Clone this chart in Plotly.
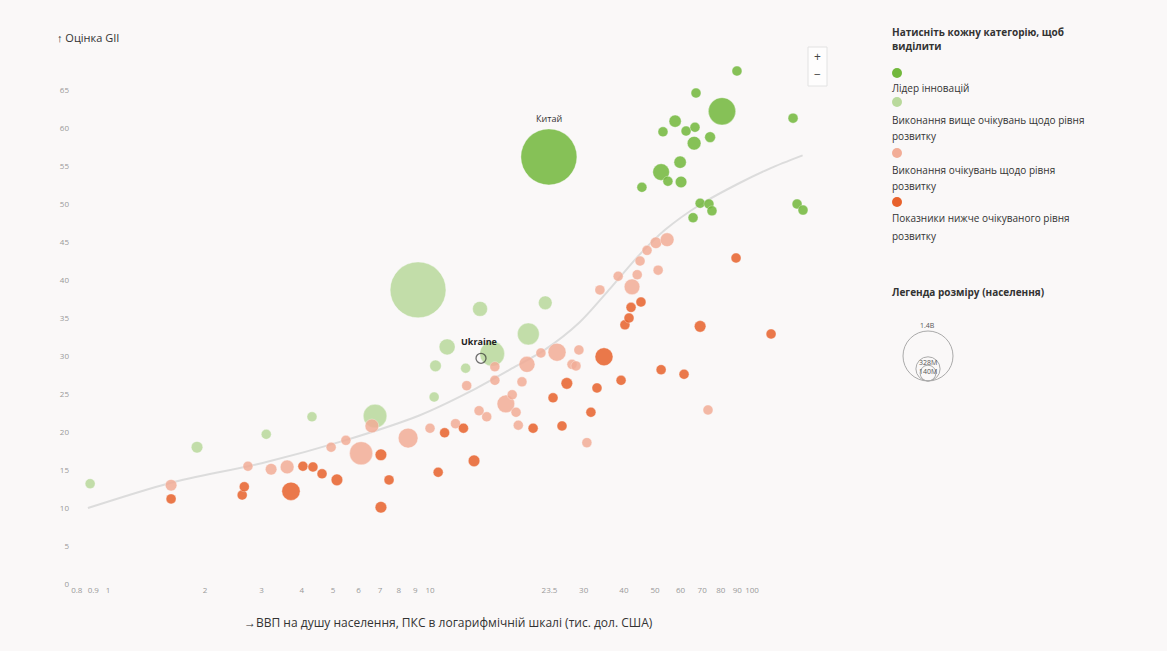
import plotly.graph_objects as go
import math

# ---------------- DATA ----------------
# Лідер інновацій
lead_gdp = [23.4, 45.5, 52.2, 54.8, 60.2, 59.8, 52.9, 57.7, 62.4, 66.5, 66.1, 67.0, 74.1, 80.7, 89.8, 69.0, 73.5, 75.1, 65.6, 134.1, 138.0, 144.0]
lead_gii = [56.2, 52.2, 54.2, 53.0, 52.9, 55.5, 59.5, 60.9, 59.6, 60.1, 58.0, 64.6, 58.8, 62.2, 67.5, 50.1, 50.0, 49.1, 48.2, 61.3, 50.0, 49.2]
lead_pop = [1410, 6, 125, 16, 60, 68, 14, 67, 25, 14, 84, 25, 52, 335, 9, 14, 25, 14, 40, 6, 10, 5]

# Виконання вище очікувань щодо рівня розвитку
above_gdp = [0.88, 1.89, 3.10, 4.30, 6.75, 10.3, 10.4, 11.3, 9.18, 12.9, 14.3, 15.6, 20.2, 22.8]
above_gii = [13.2, 18.0, 19.7, 22.0, 22.1, 24.6, 28.7, 31.2, 38.7, 28.4, 36.2, 30.3, 32.9, 37.0]
above_pop = [40, 60, 42, 28, 250, 42, 60, 115, 1400, 42, 100, 275, 215, 85]

# Виконання очікувань щодо рівня розвитку
exp_gdp = [1.57, 2.72, 3.21, 3.60, 4.93, 5.48, 6.11, 6.60, 8.55, 10.0, 12.0, 13.0, 14.2, 15.0, 15.9, 15.9, 17.2, 18.0, 18.5, 18.8, 19.3, 20.0, 22.1, 24.8, 27.6, 28.4, 29.0, 30.7, 33.7, 38.4, 42.4, 44.0, 44.9, 47.2, 50.3, 54.5, 51.1, 73.0]
exp_gii = [13.0, 15.5, 15.1, 15.4, 18.0, 18.9, 17.2, 20.8, 19.2, 20.5, 21.1, 26.1, 22.8, 22.0, 28.6, 26.8, 23.7, 24.9, 22.6, 20.9, 26.6, 28.9, 30.4, 30.5, 28.9, 28.7, 30.8, 18.6, 38.7, 40.5, 39.1, 40.7, 42.5, 43.9, 44.9, 45.3, 41.3, 22.9]
exp_pop = [60, 28, 60, 85, 42, 28, 240, 85, 175, 28, 42, 28, 42, 14, 42, 42, 140, 12, 12, 10, 12, 115, 12, 145, 10, 10, 12, 6, 14, 10, 110, 12, 10, 42, 60, 85, 6, 5]

# Показники нижче очікуваного рівня розвитку
below_gdp = [1.57, 2.61, 2.65, 3.70, 4.03, 4.33, 4.62, 5.14, 7.04, 7.04, 7.46, 10.6, 11.1, 12.7, 13.7, 20.9, 24.1, 25.7, 26.6, 31.6, 33.0, 34.7, 39.2, 40.3, 41.5, 42.1, 45.2, 52.2, 61.5, 69.0, 89.2, 114.6]
below_gii = [11.2, 11.7, 12.8, 12.2, 15.5, 15.4, 14.5, 13.7, 17.0, 10.1, 13.7, 14.7, 19.9, 20.5, 16.2, 20.5, 24.5, 20.8, 26.4, 22.6, 25.8, 29.9, 26.8, 34.1, 35.0, 36.4, 37.1, 28.2, 27.6, 33.9, 42.9, 32.9]
below_pop = [42, 28, 28, 150, 25, 25, 42, 60, 60, 60, 12, 42, 28, 12, 60, 12, 42, 28, 60, 12, 42, 145, 12, 12, 12, 12, 42, 12, 12, 60, 28, 10]

# Україна
ukr_gdp = [14.4]
ukr_gii = [29.7]
ukr_pop = [38]

# Лінія тренду
trend_gdp = [0.866, 1.56, 3.0, 5.45, 9.3, 13.3, 17.7, 22.7, 29.1, 36.3, 44.9, 53.7, 68.9, 91.8, 113.9, 143.6]
trend_gii = [10.0, 13.3, 15.9, 18.9, 22.2, 25.3, 28.2, 30.8, 34.4, 38.9, 43.4, 46.6, 49.9, 52.8, 54.7, 56.4]

x_tickvals = [0.8, 0.9, 1, 2, 3, 4, 5, 6, 7, 8, 9, 10, 23.5, 30, 40, 50, 60, 70, 80, 90, 100]
x_ticktext = ["0.8", "0.9", "1", "2", "3", "4", "5", "6", "7", "8", "9", "10", "23.5", "30", "40", "50", "60", "70", "80", "90", "100"]
y_tickvals = list(range(0, 70, 5))

size_leg_pop = [1400, 328, 140]
size_leg_lab = ["1.4B", "328M", "140M"]

categories = ["Лідер інновацій",
              "Виконання вище очікувань щодо рівня розвитку",
              "Виконання очікувань щодо рівня розвитку",
              "Показники нижче очікуваного рівня розвитку"]
colors = ["#72b83c", "#b9d99c", "#f2ad97", "#e8622c"]

# ---------------- FIGURE ----------------
FONT = "Open Sans"
W, H = 1167, 651
L, R, T, B = 70, 358, 60, 67
PW, PH = W - L - R, H - T - B
MAXD = 56
SIZEREF = 2 * 1410 / MAXD ** 2

def px(x):
    return (x - L) / PW

def py(y):
    return (H - B - y) / PH

fig = go.Figure()

fig.add_trace(go.Scatter(x=trend_gdp, y=trend_gii, mode="lines",
                         line=dict(color="#dcdcdc", width=2, shape="spline", smoothing=0.8),
                         hoverinfo="skip", showlegend=False))

series = [(lead_gdp, lead_gii, lead_pop), (above_gdp, above_gii, above_pop),
          (exp_gdp, exp_gii, exp_pop), (below_gdp, below_gii, below_pop)]
for (gx, gy, gp), name, col in zip(series, categories, colors):
    fig.add_trace(go.Scatter(
        x=gx, y=gy, mode="markers", name=name, showlegend=False,
        marker=dict(size=gp, sizemode="area", sizeref=SIZEREF, sizemin=5,
                    color=col, opacity=0.85, line=dict(color="rgba(255,255,255,0.6)", width=0.6))))

fig.add_trace(go.Scatter(
    x=ukr_gdp, y=ukr_gii, mode="markers", name="Ukraine", showlegend=False,
    marker=dict(size=ukr_pop, sizemode="area", sizeref=SIZEREF, sizemin=5,
                color="rgba(0,0,0,0)", line=dict(color="#333333", width=1.3))))

annotations = []
# data labels
annotations.append(dict(x=math.log10(23.4), y=61.3, xref="x", yref="y", text="Китай", showarrow=False,
                        font=dict(family=FONT, size=9, color="#333")))
annotations.append(dict(x=math.log10(14.2), y=31.9, xref="x", yref="y", text="<b>Ukraine</b>", showarrow=False,
                        font=dict(family=FONT, size=9, color="#222")))

def pannot(x, y, text, size=10, color="#333", xanchor="center"):
    annotations.append(dict(x=px(x), y=py(y), xref="paper", yref="paper", xanchor=xanchor, yanchor="middle",
                            text=text, showarrow=False, font=dict(family=FONT, size=size, color=color)))

# axis titles
pannot(55, 37, "<b>↑</b> Оцінка GII", size=11, xanchor="left")
pannot(448, 622, "→ВВП на душу населення, ПКС в логарифмічній шкалі (тис. дол. США)", size=12)
# zoom controls
pannot(817, 57, "+", size=12, color="#444")
pannot(817, 75, "−", size=12, color="#444")

shapes = [dict(type="rect", xref="paper", yref="paper", x0=px(808), x1=px(827), y0=py(47), y1=py(86),
               line=dict(color="#e2e2e2", width=1), fillcolor="rgba(255,255,255,0.7)", layer="below")]

# legend (custom)
LX = 890
def ltext(t, y, bold=False, size=10):
    pannot(LX, y, ("<b>%s</b>" % t) if bold else t, size=size, xanchor="left")

def lcircle(cx, cy, r, fill, line="rgba(0,0,0,0)", lw=0):
    shapes.append(dict(type="circle", xref="paper", yref="paper",
                       x0=px(cx - r), x1=px(cx + r), y0=py(cy + r), y1=py(cy - r),
                       fillcolor=fill, line=dict(color=line, width=lw)))

ltext("Натисніть кожну категорію, щоб", 32, bold=True)
ltext("виділити", 46, bold=True)
leg_rows = [(73, ["Лідер інновацій"], [88]),
            (102, ["Виконання вище очікувань щодо рівня", "розвитку"], [120, 136]),
            (153, ["Виконання очікувань щодо рівня", "розвитку"], [170, 186]),
            (202, ["Показники нижче очікуваного рівня", "розвитку"], [218, 236])]
for (my, lines, ys), col in zip(leg_rows, colors):
    lcircle(897, my, 5, col)
    for t, yy in zip(lines, ys):
        ltext(t, yy)

ltext("Легенда розміру (населення)", 292, bold=True)
base = 381
for pop, lab in zip(size_leg_pop, size_leg_lab):
    r = 25 * math.sqrt(pop / 1400)
    lcircle(928, base - r, r, "rgba(255,255,255,0)", "#aaa", 1)
    ty = base - 2 * r - 6 if pop == 1400 else base - 2 * r + 6
    pannot(928, ty, lab, size=7, color="#555")

fig.update_layout(
    width=W, height=H,
    margin=dict(l=L, r=R, t=T, b=B, autoexpand=False),
    paper_bgcolor="#faf8f8", plot_bgcolor="#faf8f8",
    font=dict(family=FONT, color="#888"),
    showlegend=False,
    xaxis=dict(type="log", range=[math.log10(0.762), math.log10(150.3)],
               tickvals=x_tickvals, ticktext=x_ticktext, showgrid=False, zeroline=False,
               showline=False, ticks="", tickfont=dict(size=8, color="#999")),
    yaxis=dict(range=[0, 68.95], tickvals=y_tickvals, showgrid=False, zeroline=False,
               showline=False, ticks="", tickfont=dict(size=8, color="#999")),
    annotations=annotations, shapes=shapes,
)

fig.write_html("out.html")
